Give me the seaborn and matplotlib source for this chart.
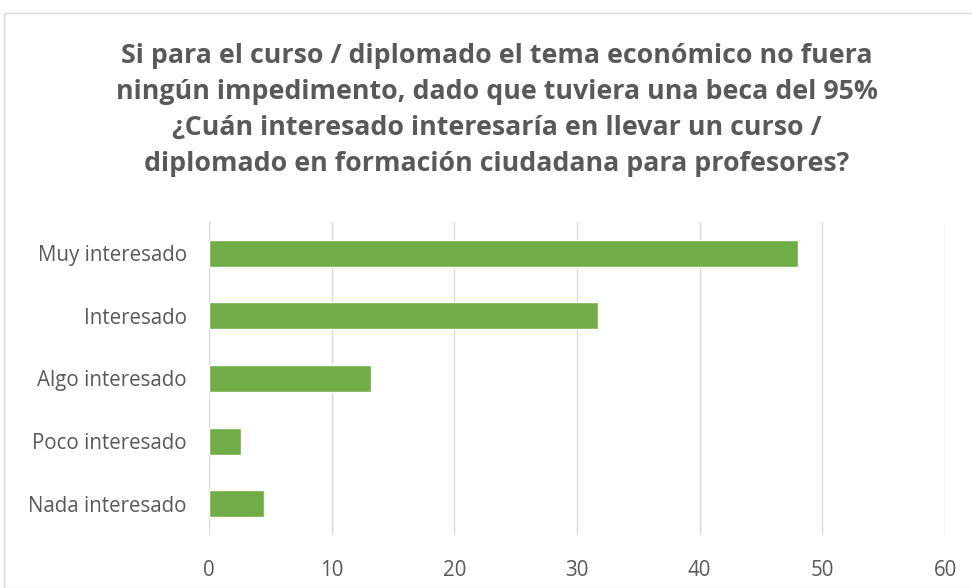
import matplotlib
matplotlib.use("Agg")
import matplotlib.pyplot as plt
import seaborn as sns
import pandas as pd
from matplotlib.patches import Rectangle

categories = ["Muy interesado", "Interesado", "Algo interesado", "Poco interesado", "Nada interesado"]
values = [48.0, 31.7, 13.2, 2.6, 4.5]
xticks = [0, 10, 20, 30, 40, 50, 60]
title = ("Si para el curso / diplomado el tema económico no fuera\n"
         "ningún impedimento, dado que tuviera una beca del 95%\n"
         "¿Cuán interesado interesaría en llevar un curso /\n"
         "diplomado en formación ciudadana para profesores?")

sns.set_theme(style="white")
plt.rcParams['font.family'] = ['Open Sans', 'DejaVu Sans']

df = pd.DataFrame({"cat": categories, "val": values})

fig = plt.figure(figsize=(9.72, 5.88), dpi=100)
ax = fig.add_axes([209/972, 1-535/588, (945-209)/972, (535-222)/588])

sns.barplot(data=df, x="val", y="cat", orient="h", color="#70AD47",
            saturation=1, width=0.43, ax=ax, zorder=3)

ax.set_xlim(0, 60)
ax.set_ylim(4.5, -0.5)
ax.set_xticks(xticks)
ax.set_xticklabels([str(t) for t in xticks])
ax.grid(axis="x", color="#D9D9D9", linewidth=1, zorder=0)
ax.grid(axis="y", visible=False)
for s in ax.spines.values():
    s.set_visible(False)
ax.set_xlabel("")
ax.set_ylabel("")
ax.tick_params(axis="both", length=0, labelsize=14.8, labelcolor="#595959")
ax.tick_params(axis="x", pad=18)
ax.tick_params(axis="y", pad=16)

fig.text(497/972, 1-110/588, title, ha="center", va="center", fontsize=19.3,
         fontweight="bold", color="#595959", linespacing=1.5)

fig.add_artist(Rectangle((4/972, 0), 1.2, 1-12.5/588, transform=fig.transFigure,
                         fill=False, edgecolor="#D9D9D9", linewidth=1))

fig.savefig("out.png", dpi=100)
